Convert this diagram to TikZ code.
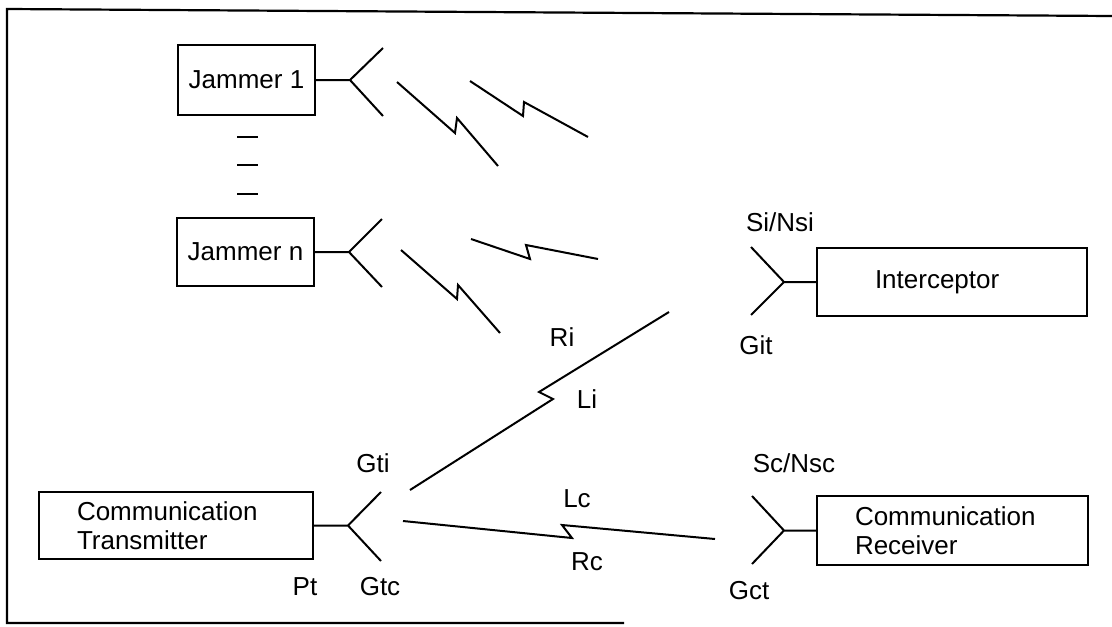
\documentclass[tikz,border=0pt]{standalone}
\usepackage{fontspec}
\setmainfont{Liberation Sans}
\begin{document}
\begin{tikzpicture}[x=1pt,y=-1pt,
  every node/.style={font=\fontsize{26}{29}\selectfont, inner sep=0pt},
  box/.style={draw, line width=2.2pt},
  wire/.style={line width=2pt, line join=miter}]
\useasboundingbox (0,0) rectangle (1112,627);
% frame
\coordinate (f1) at (7,9);
\coordinate (f2) at (1112,16);
\coordinate (f3) at (7,623);
\coordinate (f4) at (624,623);
\draw[line width=2.2pt] (f2) -- (f1) -- (f3) -- (f4);

% boxes
\node[box, minimum width=137pt, minimum height=70pt] (j1) at (246.5,80) {Jammer 1};
\node[box, minimum width=137pt, minimum height=68pt] (jn) at (245.5,252) {Jammer n};
\node[box, minimum height=67pt, text width=198pt, inner xsep=38pt, align=left] (tx) at (176,525.5) {Communication\\Transmitter};
\node[box, minimum height=68pt, text width=154pt, inner xsep=58pt, align=left] (ic) at (952,282) {Interceptor};
\node[box, minimum height=69pt, text width=195pt, inner xsep=38pt, align=left] (rx) at (952.5,530.5) {Communication\\Receiver};

% dots between jammers
\coordinate (d1a) at (237,137); \coordinate (d1b) at (258,137);
\coordinate (d2a) at (237,165); \coordinate (d2b) at (258,165);
\coordinate (d3a) at (237,194); \coordinate (d3b) at (258,194);
\draw[wire] (d1a) -- (d1b) (d2a) -- (d2b) (d3a) -- (d3b);

% antennas
\coordinate (j1a) at (350,80);  \coordinate (j1u) at (383,48);  \coordinate (j1d) at (383,116);
\coordinate (jna) at (349,252); \coordinate (jnu) at (382,219); \coordinate (jnd) at (382,287);
\coordinate (txa) at (348,525.5); \coordinate (txu) at (381,492); \coordinate (txd) at (381,561);
\coordinate (ica) at (784,282); \coordinate (icu) at (751,247); \coordinate (icd) at (751,315);
\coordinate (rxa) at (784,530.5); \coordinate (rxu) at (752,496); \coordinate (rxd) at (752,564);
\draw[wire] (j1.east) -- (j1a) (j1u) -- (j1a) -- (j1d);
\draw[wire] (jn.east) -- (jna) (jnu) -- (jna) -- (jnd);
\draw[wire] (tx.east) -- (txa) (txu) -- (txa) -- (txd);
\draw[wire] (ic.west) -- (ica) (icu) -- (ica) -- (icd);
\draw[wire] (rx.west) -- (rxa) (rxu) -- (rxa) -- (rxd);

% jammer lightning
\draw[wire] (397,82) -- (455,133) -- (457,118) -- (498,166);
\draw[wire] (470,81) -- (523,116) -- (524,102) -- (588,137);
\draw[wire] (401,250) -- (457,299) -- (458,285) -- (500,333);
\draw[wire] (471,239) -- (530,259) -- (526,245) -- (598,259);

% Li and Lc paths
\coordinate (lis) at (410,490); \coordinate (lie) at (669,312);
\coordinate (lcs) at (403,521); \coordinate (lce) at (715,539);
\draw[wire] (lis) -- (553,399) -- (539,392) -- (lie);
\draw[wire] (lcs) -- (572,538) -- (562,525) -- (lce);

% labels
\node (ri) at (562,337) {Ri};
\node (li) at (587,399) {Li};
\node (lc) at (577,499) {Lc};
\node (rc) at (587,562) {Rc};
\node (gti) at (373,463) {Gti};
\node (gtc) at (380,587) {Gtc};
\node (pt) at (305,587) {Pt};
\node (git) at (756,345) {Git};
\node (sin) at (780,222) {Si/Nsi};
\node (scn) at (794,463) {Sc/Nsc};
\node (gct) at (749,591) {Gct};
\end{tikzpicture}
\end{document}
